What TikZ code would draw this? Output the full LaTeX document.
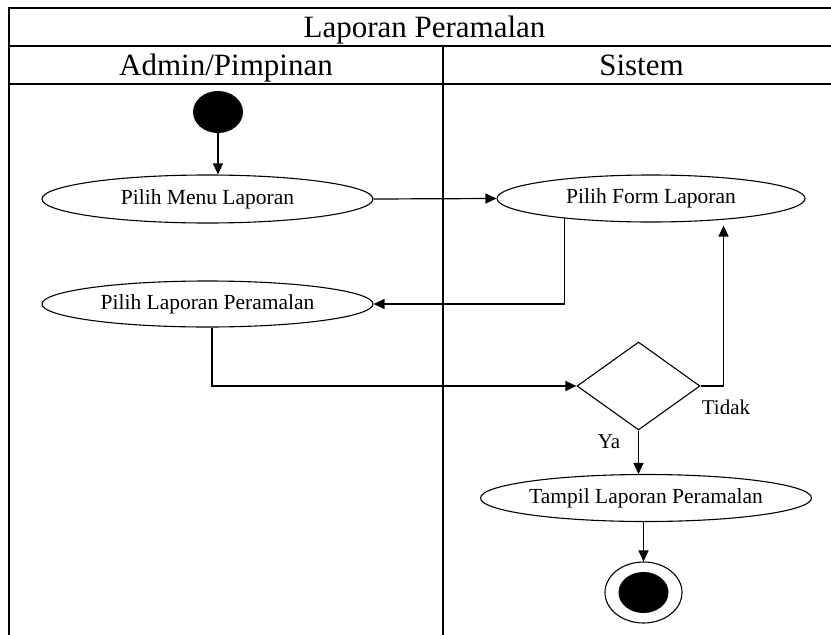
\documentclass[tikz,border=0pt]{standalone}
\usepackage{fontspec}
\setmainfont{Liberation Serif}
\usetikzlibrary{arrows.meta,shapes.geometric}
\begin{document}
\begin{tikzpicture}[x=1pt,y=-1pt,
  lane/.style={line width=2.4pt},
  flow/.style={line width=1.2pt,-{Triangle[length=11pt,width=10pt]}},
  action/.style={draw,line width=1.1pt,ellipse,inner sep=0pt,font=\fontsize{21.5}{21.5}\selectfont},
  decision/.style={draw,line width=1.1pt,diamond,inner sep=0pt,minimum width=123pt,minimum height=88pt},
  header/.style={anchor=base,font=\fontsize{31}{31}\selectfont},
  guard/.style={font=\fontsize{21}{21}\selectfont}]
\useasboundingbox (0,0) rectangle (831,635);

% swimlane frame
\draw[lane] (9,8) -- (835,8);
\draw[lane] (9,46) -- (835,46);
\draw[lane] (9,84) -- (835,84);
\draw[lane] (9,6.8) -- (9,640);
\draw[lane] (443,46) -- (443,640);
\node[header] (title) at (424.5,37) {Laporan Peramalan};
\node[header] (laneA) at (226,75) {Admin/Pimpinan};
\node[header] (laneB) at (641.5,75) {Sistem};

% activities
\node[circle,fill,inner sep=0pt,minimum size=42pt,xscale=1.19] (start) at (218,112) {};
\node[action,minimum width=331pt,minimum height=48pt] (menu) at (207.5,199) {Pilih Menu Laporan};
\node[action,minimum width=308pt,minimum height=47pt] (form) at (651,198.5) {Pilih Form Laporan};
\node[action,minimum width=331pt,minimum height=46pt] (pilih) at (207.5,304) {Pilih Laporan Peramalan};
\node[decision] (dec) at (638.5,386) {};
\node[action,minimum width=331pt,minimum height=47pt] (tampil) at (646,498) {Tampil Laporan Peramalan};
\node[ellipse,draw,line width=1.1pt,minimum width=77pt,minimum height=61pt,inner sep=0pt] (end) at (643.5,592.5) {};
\node[ellipse,fill,minimum width=50pt,minimum height=41pt,inner sep=0pt] (endin) at (end.center) {};

% guard labels
\node[guard] (tidak) at (726,407) {Tidak};
\node[guard] (ya) at (609,442) {Ya};

% flows
\draw[flow] (start.south) -- (start.south |- menu.north);
\draw[flow] (menu.east) -- (form.west);
\draw[flow] (form.193) |- (pilih.east);
\draw[flow] ([xshift=4.5pt]pilih.south) |- (dec.west);
\coordinate (loop) at ([xshift=23pt]dec.east);
\draw[flow,shorten >=3pt] (dec.east) -- (loop) -- (loop |- form.south);
\draw[flow] (dec.south) -- (dec.south |- tampil.north);
\draw[flow] (end.north |- tampil.south) -- (end.north);
\end{tikzpicture}
\end{document}
